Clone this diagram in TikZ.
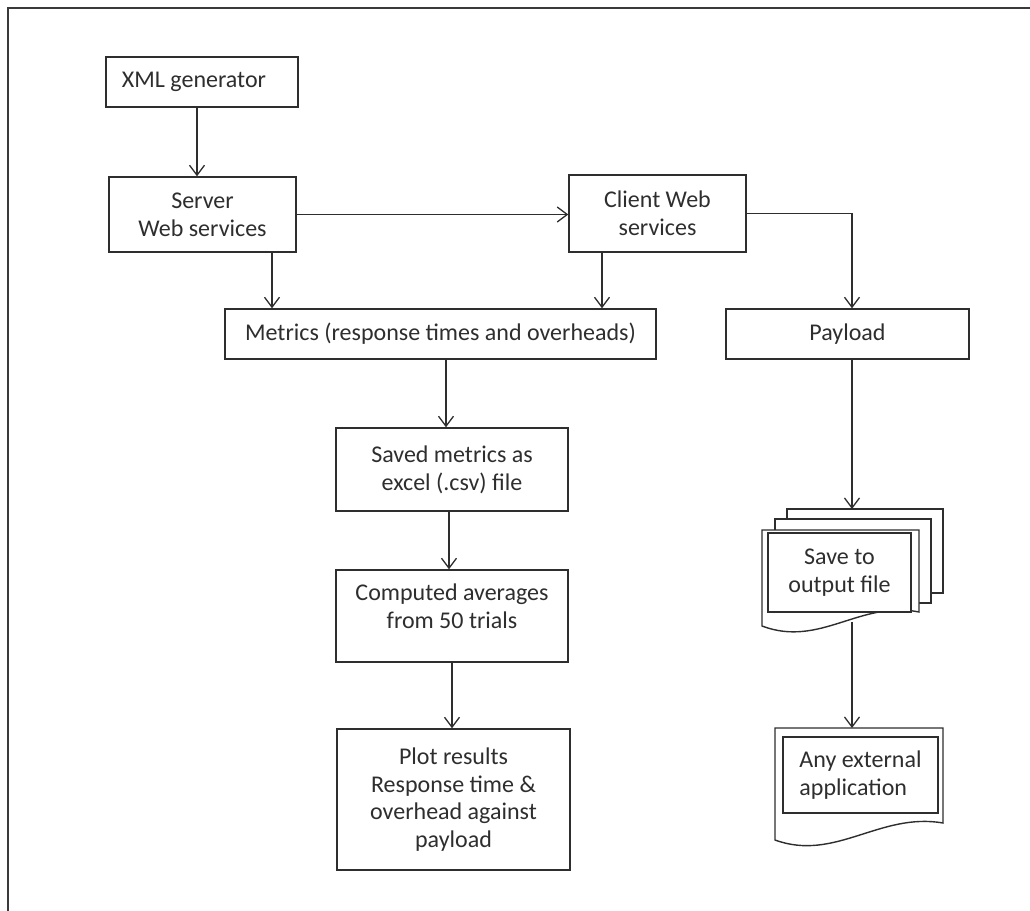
\documentclass[tikz,border=0pt]{standalone}
\usepackage{fontspec}
\setmainfont{Carlito}
\usetikzlibrary{arrows.meta}
\definecolor{inkgray}{HTML}{2E2E2E}
\definecolor{framegray}{HTML}{3A3A3A}

\begin{document}
\begin{tikzpicture}[
  x=0.5pt, y=-0.5pt,
  txt/.style={font=\fontsize{12}{13.9}\selectfont, text=inkgray, align=center},
  box/.style={txt, draw=inkgray, line width=0.7pt, inner sep=2pt, fill=white},
  arr/.style={inkgray, line width=0.65pt, -{Straight Barb[length=5pt,width=7.5pt]}},
  page/.style={draw=inkgray, line width=0.7pt, fill=white}
]
\useasboundingbox (0,0) rectangle (1030,911);
% outer frame, open to the right and bottom
\draw[framegray, line width=1.1pt] (8,930) -- (8,8) -- (1050,8);

% web services
\node[box, minimum width=96pt, minimum height=25pt,
  label={[txt, xshift=-4pt]center:XML generator}] (xml) at (202,82) {};
\node[box, minimum width=93.5pt, minimum height=37.5pt] (server) at (202.5,214.5) {Server\\Web services};
\node[box, minimum width=88.5pt, minimum height=38.5pt] (client) at (657.5,213.5) {Client Web\\services};
\draw[arr] ([xshift=-2.5pt]xml.south) -- ([xshift=-2.5pt]xml.south |- server.north);
\draw[arr] (server.east) -- (server.east -| client.west);

% metrics chain
\node[box, minimum width=215.5pt, minimum height=25pt] (metrics) at (440.5,334) {Metrics (response times and overheads)};
\node[box, minimum width=116pt, minimum height=41.5pt] (saved) at (452,469.5) {Saved metrics as\\excel (.csv) file};
\node[box, minimum width=116pt, minimum height=46pt,
  label={[txt, yshift=5pt]center:Computed averages\\from 50 trials}] (comp) at (452,616) {};
\node[box, minimum width=116.5pt, minimum height=70.5pt] (plot) at (453.5,799.5) {Plot results\\Response time \&\\overhead against\\payload};
\draw[arr] ([xshift=34.75pt]server.south) -- ([xshift=34.75pt]server.south |- metrics.north);
\draw[arr] ([xshift=-27.75pt]client.south) -- ([xshift=-27.75pt]client.south |- metrics.north);
\draw[arr] ([xshift=2.75pt]metrics.south) -- ([xshift=2.75pt]metrics.south |- saved.north);
\draw[arr] ([xshift=-1.5pt]saved.south) -- ([xshift=-1.5pt]saved.south |- comp.north);
\draw[arr] (comp.south) -- (comp.south |- plot.north);

% payload branch
\node[box, minimum width=121.5pt, minimum height=25pt] (payload) at (847.5,334) {Payload};
\draw[arr] (client.east) -| ([xshift=2.25pt]payload.north);

% stacked output pages
\draw[page] (787,509) rectangle (943,593);
\draw[page] (775,519) rectangle (931,603);
\draw[page] (762,530) -- (919,530) -- (919,612) .. controls (860,600) and (820,648) .. (762,626) -- cycle;
\node[box, minimum width=71.5pt, minimum height=39.5pt] (save) at (839.5,572.5) {Save to\\output file};
\coordinate (mdtop) at (852,509);
\coordinate (mdbot) at (852,622);

% external application page
\draw[page] (775,728) -- (943,728) -- (943,823) .. controls (880,812) and (835,862) .. (775,840) -- cycle;
\node[box, minimum width=77.5pt, minimum height=38pt, align=left] (ext) at (860.5,775) {Any external\\application};
\coordinate (doctop) at (852,728);

\draw[arr] ([xshift=2.25pt]payload.south) -- (mdtop);
\draw[arr] (mdbot) -- (doctop);
\end{tikzpicture}
\end{document}
